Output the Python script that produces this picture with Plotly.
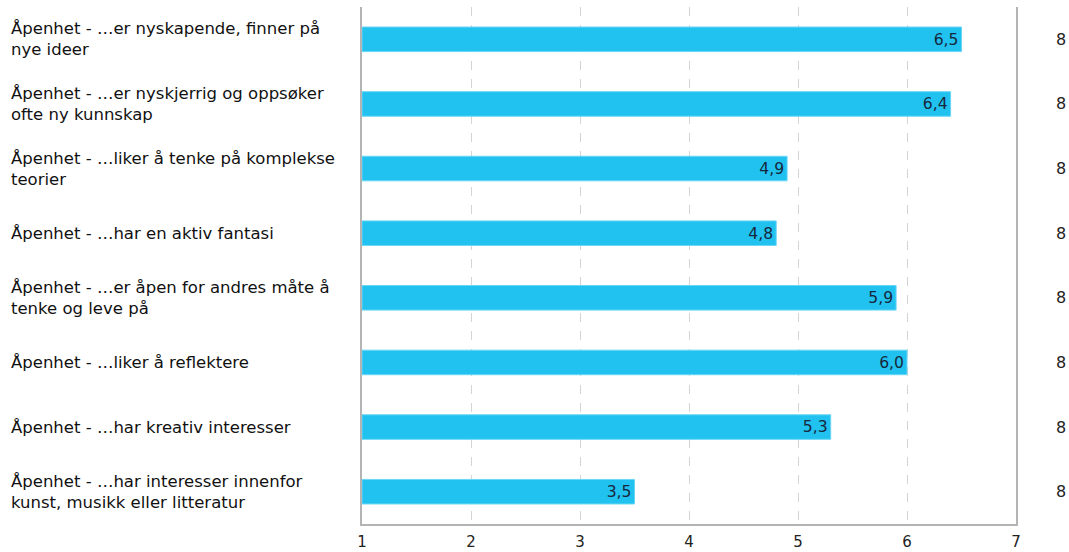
import plotly.graph_objects as go

categories = [
    "Åpenhet - …er nyskapende, finner på<br>nye ideer",
    "Åpenhet - …er nyskjerrig og oppsøker<br>ofte ny kunnskap",
    "Åpenhet - …liker å tenke på komplekse<br>teorier",
    "Åpenhet - …har en aktiv fantasi",
    "Åpenhet - …er åpen for andres måte å<br>tenke og leve på",
    "Åpenhet - …liker å reflektere",
    "Åpenhet - …har kreativ interesser",
    "Åpenhet - …har interesser innenfor<br>kunst, musikk eller litteratur",
]
means = [6.5, 6.4, 4.9, 4.8, 5.9, 6.0, 5.3, 3.5]
counts = [8, 8, 8, 8, 8, 8, 8, 8]
x_ticks = [1, 2, 3, 4, 5, 6, 7]

FONT = "Verdana, DejaVu Sans, sans-serif"
BAR = "#21c2f0"
TEXT = "#16283d"

W, H = 1069, 552
ML, MR, MT, MB = 362, W - 1016, 7, 28
pw = W - ML - MR

ypos = list(range(len(categories)))

fig = go.Figure(
    go.Bar(
        x=[m - 1 for m in means],
        base=1,
        y=ypos,
        orientation="h",
        width=0.38,
        marker=dict(color=BAR, line=dict(color="#6ad6f6", width=1)),
        customdata=means,
        texttemplate="%{customdata:.1f}",
        textposition="inside",
        insidetextanchor="end",
        textfont=dict(family=FONT, size=16, color=TEXT),
        hoverinfo="skip",
    )
)

annotations = []
for i, label in enumerate(categories):
    annotations.append(dict(
        x=(9 - ML) / pw, xref="paper", y=i, yref="y",
        text=label, showarrow=False, xanchor="left", yanchor="middle",
        align="left", font=dict(family=FONT, size=16.5, color="#111111"),
    ))
    annotations.append(dict(
        x=(1061 - ML) / pw, xref="paper", y=i, yref="y",
        text=str(counts[i]), showarrow=False, xanchor="center", yanchor="middle",
        font=dict(family=FONT, size=16, color="#222222"),
    ))

fig.update_layout(
    width=W, height=H,
    margin=dict(l=ML, r=MR, t=MT, b=MB),
    plot_bgcolor="white", paper_bgcolor="white",
    separators=", ",
    showlegend=False,
    annotations=annotations,
    xaxis=dict(
        range=[1, 7], tickvals=x_ticks, ticktext=[str(v) for v in x_ticks],
        showgrid=True, gridcolor="#d4d4d4", griddash="dash", gridwidth=1,
        showline=True, linecolor="#b4b4b4", linewidth=2,
        zeroline=False, ticks="", ticklabelstandoff=3,
        tickfont=dict(family=FONT, size=15, color="#222222"),
        automargin=False, fixedrange=True,
    ),
    yaxis=dict(
        range=[len(categories) - 0.5, -0.5],
        showticklabels=False, showgrid=False, zeroline=False,
        showline=True, linecolor="#b4b4b4", linewidth=2, mirror=True,
        ticks="", automargin=False, fixedrange=True,
    ),
)

fig.write_html("out.html")
